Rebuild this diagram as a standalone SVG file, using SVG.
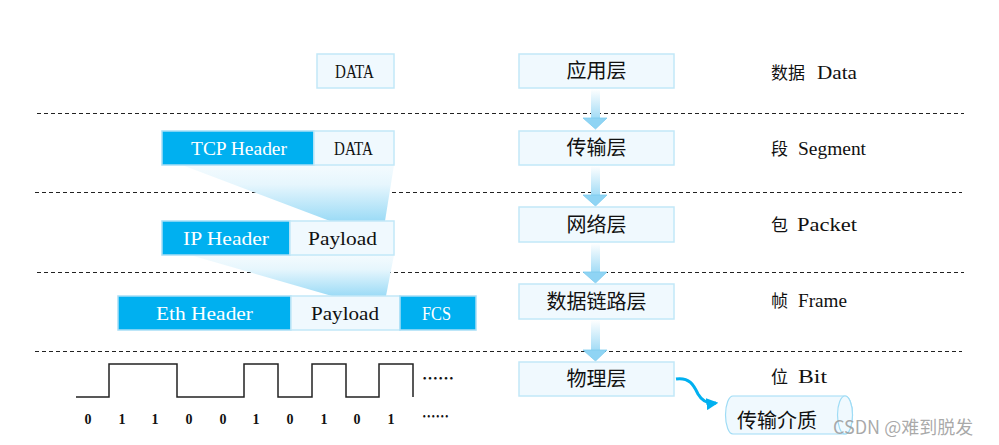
<svg xmlns="http://www.w3.org/2000/svg" width="999" height="445" viewBox="0 0 999 445">
<defs>
  <linearGradient id="fun" x1="0" y1="0" x2="0" y2="1">
    <stop offset="0" stop-color="#f4fbfe"/>
    <stop offset="0.35" stop-color="#e6f6fd"/>
    <stop offset="1" stop-color="#9cdbf6"/>
  </linearGradient>
  <linearGradient id="shaft" x1="0" y1="0" x2="0" y2="1">
    <stop offset="0" stop-color="#ffffff"/>
    <stop offset="1" stop-color="#a3dcf6"/>
  </linearGradient>
  <marker id="ah" viewBox="0 0 10 10" refX="8" refY="5" markerWidth="4" markerHeight="4" orient="auto" markerUnits="strokeWidth">
    <path d="M0,0 L10,5 L0,10 Z" fill="#00b0f0"/>
  </marker>
</defs>
<style>
  .box{fill:#f0f9fe;stroke:#c2e8f8;stroke-width:1.5}
  .blue{fill:#00b0f0;stroke:#a8def6;stroke-width:1.5}
  .lat{font-family:"Liberation Serif","Noto Sans CJK SC",serif;font-size:19px;fill:#111}
  .wm{fill:#ffffff}
  .cn{font-family:"Noto Sans CJK SC",sans-serif;font-size:20px;fill:#111}
  .cn16{font-family:"Noto Sans CJK SC",sans-serif;font-size:17px;fill:#111}
  .dash{stroke:#222;stroke-width:1;stroke-dasharray:4 3;fill:none}
  .sig{stroke:#222;stroke-width:1.5;fill:none}
  .bit{font-family:"Liberation Serif",serif;font-size:14px;font-weight:bold;fill:#111}
  .dots{font-family:"Noto Sans CJK SC",sans-serif;font-size:16px;font-weight:bold;fill:#111}
  .head{fill:#8fd4f4;stroke:#7ccbef;stroke-width:0.8}
  .shaft{fill:url(#shaft)}
</style>

<!-- dashed separators -->
<g id="separators">
  <line class="dash" x1="37" y1="113.5" x2="964" y2="113.5"/>
  <line class="dash" x1="35" y1="192.5" x2="962" y2="192.5"/>
  <line class="dash" x1="37" y1="272.5" x2="964" y2="272.5"/>
  <line class="dash" x1="35" y1="351.5" x2="962" y2="351.5"/>
</g>

<!-- funnels -->
<g id="funnels">
  <polygon points="182,165 394,165 385,221 330,221" fill="url(#fun)"/>
  <polygon points="190,255 394,255 386,296 332,296" fill="url(#fun)"/>
</g>

<!-- left: encapsulation -->
<g id="data-top">
  <rect class="box" x="317" y="54" width="77" height="34"/>
  <text class="lat" x="335" y="78" textLength="39" lengthAdjust="spacingAndGlyphs">DATA</text>
</g>
<g id="tcp-segment">
  <rect class="blue" x="162" y="131" width="152" height="34"/>
  <text class="lat wm" x="191" y="155" textLength="96" lengthAdjust="spacingAndGlyphs">TCP Header</text>
  <rect class="box" x="314" y="131" width="80" height="34"/>
  <text class="lat" x="334" y="155" textLength="39" lengthAdjust="spacingAndGlyphs">DATA</text>
</g>
<g id="ip-packet">
  <rect class="blue" x="162" y="221" width="128" height="34"/>
  <text class="lat wm" x="183" y="245" textLength="86" lengthAdjust="spacingAndGlyphs">IP Header</text>
  <rect class="box" x="290" y="221" width="104" height="34"/>
  <text class="lat" x="308" y="245" textLength="69" lengthAdjust="spacingAndGlyphs">Payload</text>
</g>
<g id="eth-frame">
  <rect class="blue" x="118" y="296" width="173" height="34"/>
  <text class="lat wm" x="156" y="320" textLength="97" lengthAdjust="spacingAndGlyphs">Eth Header</text>
  <rect class="box" x="291" y="296" width="109" height="34"/>
  <text class="lat" x="311" y="320" textLength="68" lengthAdjust="spacingAndGlyphs">Payload</text>
  <rect class="blue" x="400" y="296" width="76" height="34"/>
  <text class="lat wm" x="422" y="320" textLength="29" lengthAdjust="spacingAndGlyphs">FCS</text>
</g>

<!-- bit signal -->
<g id="bit-signal">
  <path class="sig" d="M76,397 H109 V364 H177 V397 H244 V364 H278 V397 H312 V364 H346 V397 H379 V364 H413 V397"/>
  <text class="bit" x="88" y="424" text-anchor="middle">0</text>
  <text class="bit" x="122" y="424" text-anchor="middle">1</text>
  <text class="bit" x="155" y="424" text-anchor="middle">1</text>
  <text class="bit" x="189" y="424" text-anchor="middle">0</text>
  <text class="bit" x="223" y="424" text-anchor="middle">0</text>
  <text class="bit" x="256" y="424" text-anchor="middle">1</text>
  <text class="bit" x="290" y="424" text-anchor="middle">0</text>
  <text class="bit" x="324" y="424" text-anchor="middle">1</text>
  <text class="bit" x="357" y="424" text-anchor="middle">0</text>
  <text class="bit" x="391" y="424" text-anchor="middle">1</text>
  <text class="dots" x="422" y="384" textLength="32" lengthAdjust="spacingAndGlyphs">……</text>
  <text class="dots" x="422" y="422" textLength="27" lengthAdjust="spacingAndGlyphs">……</text>
</g>

<!-- layer arrows -->
<g id="connectors">
  <rect class="shaft" x="591" y="89" width="9" height="29"/>
  <polygon class="head" points="583,118 607,118 595.5,129"/>
  <rect class="shaft" x="591" y="166" width="9" height="29"/>
  <polygon class="head" points="583,195 607,195 595.5,206"/>
  <rect class="shaft" x="591" y="243" width="9" height="29"/>
  <polygon class="head" points="583,272 607,272 595.5,283"/>
  <rect class="shaft" x="591" y="320" width="9" height="30"/>
  <polygon class="head" points="583,350 607,350 595.5,361"/>
  <path d="M676,379 C690,377 694,386 698,394 C702,401 708,404 716,403" fill="none" stroke="#00b0f0" stroke-width="3" marker-end="url(#ah)"/>
</g>

<!-- layers -->
<g id="layer-app">
  <rect class="box" x="519" y="54" width="155" height="34"/>
  <text class="cn" x="596.5" y="78" text-anchor="middle">应用层</text>
</g>
<g id="layer-transport">
  <rect class="box" x="519" y="131" width="155" height="34"/>
  <text class="cn" x="596.5" y="155" text-anchor="middle">传输层</text>
</g>
<g id="layer-network">
  <rect class="box" x="519" y="207" width="155" height="35"/>
  <text class="cn" x="596.5" y="231.5" text-anchor="middle">网络层</text>
</g>
<g id="layer-datalink">
  <rect class="box" x="519" y="284" width="155" height="35"/>
  <text class="cn" x="596.5" y="308.5" text-anchor="middle">数据链路层</text>
</g>
<g id="layer-physical">
  <rect class="box" x="519" y="362" width="155" height="34"/>
  <text class="cn" x="596.5" y="386" text-anchor="middle">物理层</text>
</g>

<!-- medium -->
<g id="medium">
  <path d="M733,396 H845 A7.5,19 0 0 1 845,434 H733 A7.5,19 0 0 1 733,396 Z" fill="#f0f9fe" stroke="#9fdcf5" stroke-width="1.2"/>
  <ellipse cx="845" cy="415" rx="7.5" ry="19" fill="#f0f9fe" stroke="#9fdcf5" stroke-width="1.2"/>
  <text class="cn" x="777" y="428" text-anchor="middle">传输介质</text>
</g>

<!-- unit labels -->
<g id="units">
  <text class="cn16" x="771" y="79">数据</text>
  <text class="lat" x="817" y="79" textLength="40" lengthAdjust="spacingAndGlyphs">Data</text>
  <text class="cn16" x="771" y="155">段</text>
  <text class="lat" x="798" y="155" textLength="68" lengthAdjust="spacingAndGlyphs">Segment</text>
  <text class="cn16" x="771" y="231">包</text>
  <text class="lat" x="797" y="231" textLength="60" lengthAdjust="spacingAndGlyphs">Packet</text>
  <text class="cn16" x="771" y="307">帧</text>
  <text class="lat" x="798" y="307" textLength="49" lengthAdjust="spacingAndGlyphs">Frame</text>
  <text class="cn16" x="771" y="383">位</text>
  <text class="lat" x="798" y="383" textLength="29" lengthAdjust="spacingAndGlyphs">Bit</text>
</g>

<text x="833" y="434" font-family="Noto Sans CJK SC,sans-serif" font-size="18" fill="#9a9a9a" fill-opacity="0.85">CSDN @难到脱发</text>
</svg>
